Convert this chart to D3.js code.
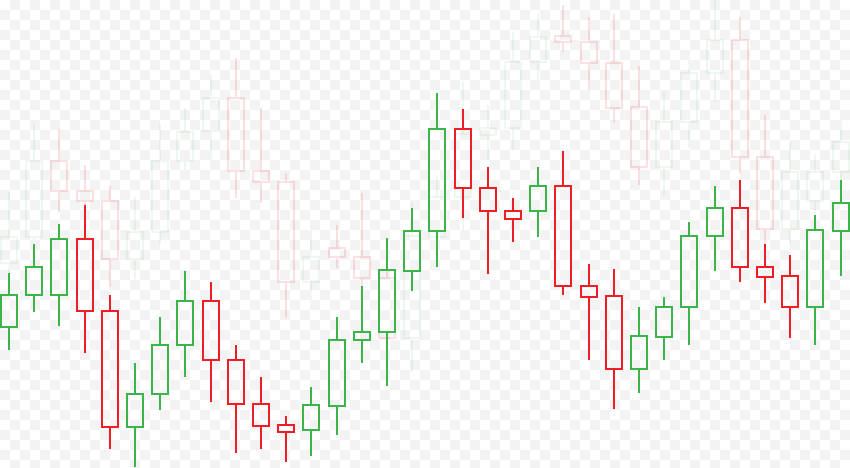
<!DOCTYPE html>
<html>
<head>
<meta charset="utf-8">
<script src="https://cdn.jsdelivr.net/npm/d3@7"></script>
<style>
  html, body { margin: 0; padding: 0; background: #fff; }
  svg { display: block; }
</style>
</head>
<body>
<div id="chart"></div>
<script>
// Foreground candlestick series (price units)
const fgOpen  = [143,175,175,231,159, 43, 76,125,169,110, 66, 45, 40, 64,130,138,199,239,341,282,259,259,284,184,174,101,133,163,234,262,203,194,163,239];
const fgClose = [175,203,231,159, 43, 76,125,169,110, 66, 44, 38, 65,130,138,200,239,341,282,259,251,284,184,173,101,134,163,234,262,203,193,163,240,267];
const fgHigh  = [197,226,246,265,175,107,153,199,188,125, 93, 54, 83,153,184,232,262,377,361,303,272,303,319,206,201,163,173,248,284,290,226,215,255,290];
const fgLow   = [120,158,144,117, 21,  3, 60, 93, 68, 17, 21,  8, 14, 35,107, 84,179,203,252,196,228,233,175,110, 61, 77,110,125,199,188,167,132,125,194];

// Faded background candlestick series (price units)
const bgOpen  = [207,233,309,279,269,211,238,309,339,372,299,288,188,222,213,192,132,233,273,335,342,408,434,428,407,363,303,348,397,430,313,241,269,298];
const bgClose = [233,309,279,269,211,238,309,338,372,299,288,188,213,213,192,132,234,273,336,342,408,433,428,407,362,303,348,397,430,313,241,298,298,328];
const bgHigh  = [278,347,341,305,284,273,347,362,396,412,362,297,240,245,277,220,268,293,388,365,438,458,465,453,456,404,379,410,470,453,355,328,315,350];
const bgLow   = [198,230,258,265,183,191,225,300,310,272,267,153,170,202,184,120, 97,225,240,310,320,390,418,380,347,285,274,322,368,297,225,225,255,290];

const W = 850, H = 468;
const UP = "#3bb54a", DOWN = "#ee1d26";

const svg = d3.select("#chart").append("svg").attr("width", W).attr("height", H);

// checkerboard background
const defs = svg.append("defs");
const pat = defs.append("pattern").attr("id", "checker")
  .attr("width", 20).attr("height", 20).attr("patternUnits", "userSpaceOnUse");
pat.append("rect").attr("width", 20).attr("height", 20).attr("fill", "#ffffff");
pat.append("rect").attr("x", 10).attr("y", 0).attr("width", 10).attr("height", 10).attr("fill", "#f3f3f3");
pat.append("rect").attr("x", 0).attr("y", 10).attr("width", 10).attr("height", 10).attr("fill", "#f3f3f3");
svg.append("rect").attr("width", W).attr("height", H).attr("fill", "url(#checker)");

const idx = d3.range(fgOpen.length);
const x = d3.scaleBand().domain(idx).range([-3.6, 853.2]).padding(0);
const y = d3.scaleLinear().domain([0, 470]).range([470, 0]);
const cx = i => Math.round(x(i) + x.bandwidth() / 2);
const bodyW = 16;

function drawSeries(g, O, C, Hi, Lo, opUp, opDown) {
  const data = idx.map(i => ({i, o: O[i], c: C[i], h: Hi[i], l: Lo[i]}));
  const grp = g.append("g");
  const isUp = d => d.c >= d.o;
  const col = d => isUp(d) ? UP : DOWN;
  const op = d => isUp(d) ? opUp : opDown;
  const candle = grp.selectAll("g.candle").data(data).join("g")
    .attr("class", "candle").attr("opacity", op);
  candle.append("line")
    .attr("x1", d => cx(d.i)).attr("x2", d => cx(d.i))
    .attr("y1", d => y(d.h)).attr("y2", d => y(Math.max(d.o, d.c)))
    .attr("stroke", col).attr("stroke-width", 2);
  candle.append("line")
    .attr("x1", d => cx(d.i)).attr("x2", d => cx(d.i))
    .attr("y1", d => y(Math.min(d.o, d.c))).attr("y2", d => y(d.l))
    .attr("stroke", col).attr("stroke-width", 2);
  candle.append("rect")
    .attr("x", d => cx(d.i) - bodyW / 2)
    .attr("width", bodyW)
    .attr("y", d => y(Math.max(d.o, d.c)))
    .attr("height", d => Math.max(1, y(Math.min(d.o, d.c)) - y(Math.max(d.o, d.c))))
    .attr("fill", "none")
    .attr("stroke", col).attr("stroke-width", 2);
}

drawSeries(svg, bgOpen, bgClose, bgHigh, bgLow, 0.08, 0.13);
drawSeries(svg, fgOpen, fgClose, fgHigh, fgLow, 1, 1);
</script>
</body>
</html>
